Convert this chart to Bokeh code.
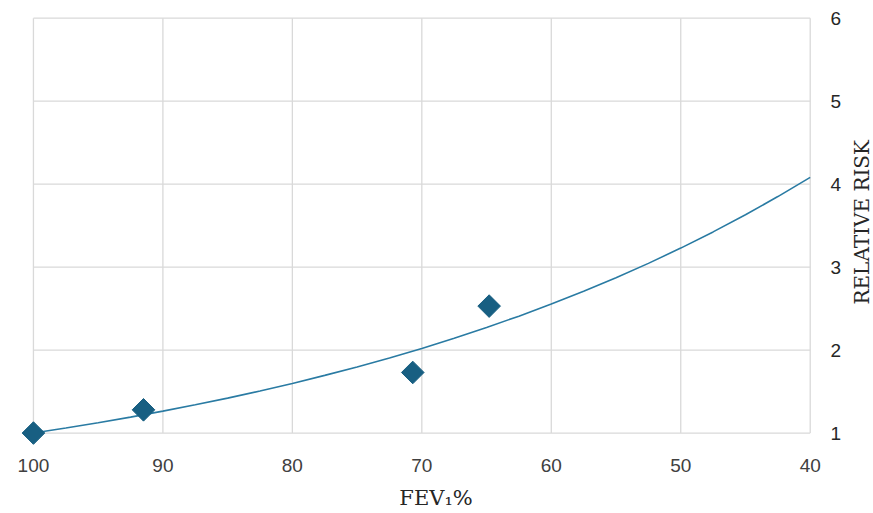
import math
from bokeh.plotting import figure
from bokeh.models import Range1d, FixedTicker, Label
from bokeh.embed import file_html
from bokeh.resources import INLINE

# Observed data points (FEV1 %, relative risk)
fev_points = [100.0, 91.5, 70.7, 64.8]
rr_points = [1.00, 1.28, 1.73, 2.53]

# Fitted trend curve
fev_curve = [100, 97.5, 95, 92.5, 90, 87.5, 85, 82.5, 80, 77.5, 75, 72.5, 70,
             67.5, 65, 62.5, 60, 57.5, 55, 52.5, 50, 47.5, 45, 42.5, 40]
rr_curve = [1.000, 1.060, 1.124, 1.192, 1.264, 1.341, 1.421, 1.507, 1.598,
            1.695, 1.797, 1.905, 2.020, 2.142, 2.272, 2.409, 2.554, 2.708,
            2.872, 3.045, 3.229, 3.424, 3.631, 3.850, 4.082]

x_ticks = [100, 90, 80, 70, 60, 50, 40]
y_ticks = [1, 2, 3, 4, 5, 6]
x_title = "FEV\u2081%"
y_title = "RELATIVE RISK"

x_min, x_max = min(x_ticks), max(x_ticks)
y_min, y_max = min(y_ticks), max(y_ticks)

p = figure(width=873, height=513, output_backend="svg", toolbar_location=None,
           x_range=Range1d(101, 39.9), y_range=Range1d(0.85, 6.02),
           y_axis_location="right",
           min_border_left=20, min_border_right=62, min_border_top=16,
           min_border_bottom=68)
p.outline_line_color = None
p.background_fill_color = "white"
p.border_fill_color = "white"
p.xgrid.visible = False
p.ygrid.visible = False

p.xaxis.ticker = FixedTicker(ticks=x_ticks)
p.yaxis.ticker = FixedTicker(ticks=y_ticks)
for ax in (p.xaxis, p.yaxis):
    ax.axis_line_color = None
    ax.major_tick_line_color = None
    ax.minor_tick_line_color = None
    ax.major_tick_out = 0
    ax.major_tick_in = 0
    ax.major_label_text_font = "Liberation Sans"
    ax.major_label_text_font_size = "19px"

p.xaxis.major_label_text_color = "#404040"
p.yaxis.major_label_text_color = "#262626"
p.xaxis.major_label_standoff = 13
p.yaxis.major_label_standoff = 19

# axis titles as labels in the side panels (not clipped to the frame)
p.add_layout(Label(x=36.0, y=3.54, text=y_title, angle=math.pi / 2,
                   text_font="DejaVu Serif", text_font_size="20px",
                   text_color="#262626", text_align="center",
                   text_baseline="middle"), "right")
p.add_layout(Label(x=68.9, y=0.22, text=x_title,
                   text_font="DejaVu Serif", text_font_size="21px",
                   text_color="#262626", text_align="center",
                   text_baseline="middle"), "below")

# grid lines drawn only across the data extent
grid_color = "#d9d9d9"
p.segment(x0=x_ticks, y0=[y_min] * len(x_ticks), x1=x_ticks, y1=[y_max] * len(x_ticks),
          line_color=grid_color, line_width=1.3)
p.segment(x0=[x_min] * len(y_ticks), y0=y_ticks, x1=[x_max] * len(y_ticks), y1=y_ticks,
          line_color=grid_color, line_width=1.3)

p.line(fev_curve, rr_curve, line_color="#2a7ba3", line_width=1.6)
p.scatter(fev_points, rr_points, marker="square", size=16, angle=math.pi / 4,
          fill_color="#185f82", line_color="#185f82")

open("out.html", "w").write(file_html(p, INLINE))
